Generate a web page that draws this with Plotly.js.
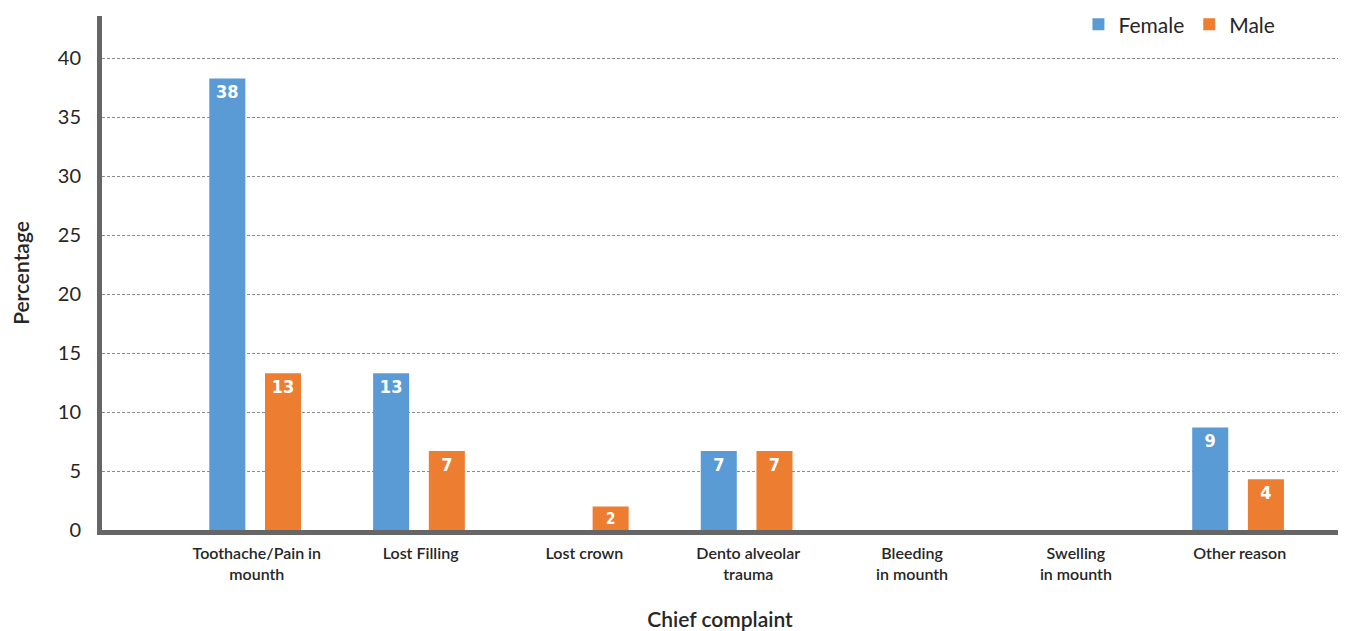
<!DOCTYPE html>
<html>
<head>
<meta charset="utf-8">
<script src="https://cdn.plot.ly/plotly-3.0.1.min.js"></script>
<style>html,body{margin:0;padding:0;background:#fff;}#chart{width:1349px;height:631px;}</style>
</head>
<body>
<div id="chart"></div>
<script>
const categories = ["Toothache/Pain in<br>mounth", "Lost Filling", "Lost crown", "Dento alveolar<br>trauma", "Bleeding<br>in mounth", "Swelling<br>in mounth", "Other reason"];
const female = [38.3, 13.3, null, 6.7, null, null, 8.7];
const male = [13.3, 6.7, 2.0, 6.7, null, null, 4.3];
const yTicks = [0, 5, 10, 15, 20, 25, 30, 35, 40];

const labelFont = {family: "DejaVu Sans Condensed, DejaVu Sans, sans-serif", size: 18, color: "#ffffff", weight: 700, stretch: "condensed"};

const traces = [
  {type: "bar", name: "Female", x: categories, y: female, width: 0.22, offset: -0.29,
   marker: {color: "#5b9bd5"}, texttemplate: "%{y:.0f}", textposition: "inside", insidetextanchor: "end",
   textfont: labelFont, insidetextfont: labelFont, textangle: 0, cliponaxis: false, hoverinfo: "x+y"},
  {type: "bar", name: "Male", x: categories, y: male, width: 0.22, offset: 0.05,
   marker: {color: "#ed7d31"}, texttemplate: "%{y:.0f}", textposition: "inside", insidetextanchor: "end",
   textfont: labelFont, insidetextfont: labelFont, textangle: 0, cliponaxis: false, hoverinfo: "x+y"}
];

const layout = {
  width: 1349, height: 631,
  margin: {l: 102, r: 11, t: 16, b: 101, autoexpand: false},
  paper_bgcolor: "#ffffff", plot_bgcolor: "#ffffff",
  font: {family: "Lato, sans-serif", color: "#262626"},
  barmode: "overlay",
  showlegend: true,
  legend: {orientation: "h", x: 0.79, y: 1.023, xanchor: "left", yanchor: "top",
           font: {family: "Lato, sans-serif", size: 21, color: "#262626"}, itemwidth: 30, bgcolor: "rgba(0,0,0,0)"},
  xaxis: {
    range: [-0.945, 6.6], showgrid: false, zeroline: false,
    showline: true, linecolor: "#666666", linewidth: 5,
    ticks: "", ticklabelstandoff: 5, tickfont: {family: "Lato, sans-serif", size: 16, color: "#262626", weight: 600},
    title: {text: "Chief complaint", font: {family: "Lato, sans-serif", size: 21, color: "#262626", weight: 600}, standoff: 33},
    fixedrange: true
  },
  yaxis: {
    range: [0, 43.6], tickvals: yTicks, ticktext: yTicks.map(String),
    showgrid: true, gridcolor: "#8c8c8c", gridwidth: 1, griddash: "3px,2px",
    zeroline: false, showline: true, linecolor: "#666666", linewidth: 5,
    ticks: "", ticklabelstandoff: 12, tickfont: {family: "Lato, sans-serif", size: 20, color: "#262626"},
    title: {text: "Percentage", font: {family: "Lato, sans-serif", size: 21, color: "#262626", weight: 600}, standoff: 24},
    fixedrange: true
  }
};

Plotly.newPlot("chart", traces, layout, {displayModeBar: false, staticPlot: true});
</script>
</body>
</html>
